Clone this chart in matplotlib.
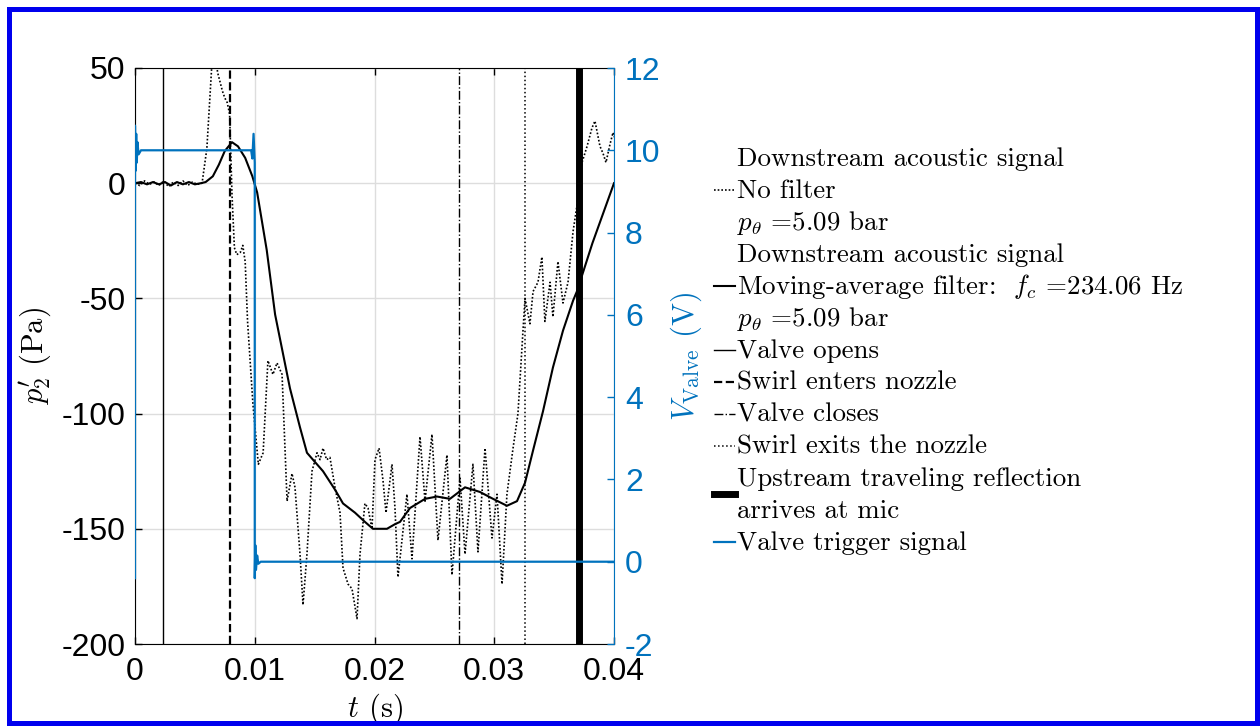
import matplotlib
matplotlib.use('Agg')
import matplotlib.pyplot as plt
from matplotlib.lines import Line2D
from matplotlib.patches import Rectangle

# ---------------- datos ---------------- #
# señal acustica sin filtro: tiempo (s) y presion (Pa)
t_raw = [0.0, 0.0004, 0.0008, 0.0012, 0.0016, 0.0020, 0.0024, 0.0028, 0.0032, 0.0036,
         0.0040, 0.0044, 0.0048, 0.0052, 0.0056, 0.0060, 0.0064, 0.0066, 0.0069, 0.0071,
         0.0073, 0.0075, 0.0077, 0.0079, 0.0081, 0.0083, 0.0085, 0.0088, 0.0090, 0.0092,
         0.0094, 0.00985, 0.0103, 0.0107, 0.0111, 0.01152, 0.01186, 0.01228, 0.0127, 0.01311,
         0.01336, 0.01378, 0.01403, 0.01436, 0.01478, 0.0152, 0.01545, 0.0157, 0.0160, 0.01628,
         0.0167, 0.01712, 0.01737, 0.01779, 0.01812, 0.01854, 0.01879, 0.0192, 0.01946, 0.01979,
         0.02004, 0.02038, 0.02071, 0.02096, 0.02146, 0.02171, 0.02196, 0.02271, 0.02313, 0.0238,
         0.02422, 0.0248, 0.0253, 0.02605, 0.02647, 0.02714, 0.02756, 0.02822, 0.02864, 0.02923,
         0.02981, 0.03023, 0.03065, 0.03106, 0.03157, 0.03198, 0.0324, 0.03257, 0.03298, 0.03324,
         0.03365, 0.03398, 0.03423, 0.03466, 0.0349, 0.03532, 0.03574, 0.03616, 0.03658, 0.0369,
         0.03733, 0.03775, 0.03816, 0.03841, 0.03883, 0.03908, 0.03933, 0.03967, 0.03992, 0.04]
p_raw = [0, -1, 1, -0.5, 0.5, -1, 1, -1.5, 0.5, -1,
         1, -1, 0.5, -0.5, 0, 15, 50, 60, 48, 44,
         40, 37, 35, 30, -5, -28, -31, -30, -27, -34,
         -60, -96, -122, -117, -77, -83, -78, -83, -138, -126,
         -132, -161, -183, -161, -125, -117, -120, -115, -120, -119,
         -132, -143, -167, -174, -176, -189, -161, -139, -141, -150,
         -120, -115, -129, -143, -122, -141, -171, -135, -163, -110,
         -138, -109, -155, -118, -170, -128, -161, -122, -160, -115,
         -154, -135, -174, -135, -115, -100, -64, -50, -61, -47,
         -43, -32, -60, -43, -58, -34, -52, -43, -21, -10,
         9, 16, 24, 27, 16, 13, 9, 17, 22, 20]

# señal con filtro de media movil
t_filt = [0.0, 0.0005, 0.001, 0.0015, 0.002, 0.0025, 0.003, 0.0035, 0.004, 0.0045,
          0.005, 0.0055, 0.0059, 0.0065, 0.0070, 0.0075, 0.0081, 0.0086, 0.0092, 0.0098,
          0.0102, 0.0110, 0.0117, 0.01294, 0.01378, 0.01436, 0.01486, 0.0157, 0.0167, 0.01737,
          0.01837, 0.0192, 0.01987, 0.02104, 0.02171, 0.02213, 0.02296, 0.02422, 0.02522, 0.0263,
          0.02756, 0.0288, 0.0299, 0.03106, 0.0319, 0.03257, 0.03324, 0.03407, 0.0349, 0.03574,
          0.03658, 0.0369, 0.0382, 0.04]
p_filt = [0, 0.5, -0.5, 0.5, -0.5, 0.5, -1, 0.5, -0.5, 0.5,
          -0.5, 0, 0.5, 3, 8, 14, 17.8, 16, 11, 3,
          -4, -29, -57, -89, -106, -117, -120, -125, -133, -139,
          -143, -147, -150, -150, -148, -147, -141, -137, -136, -137,
          -132, -134, -137, -140, -138, -130, -116, -99, -80, -64,
          -51, -47, -26, 0]

# señal de disparo de la valvula (V)
t_trig = [0.0, 0.0, 0.00005, 0.0001, 0.00015, 0.0002, 0.0003, 0.0005, 0.0097, 0.0098,
          0.0099, 0.0100, 0.0100, 0.01005, 0.0101, 0.0102, 0.0103, 0.0105, 0.04]
v_trig = [-0.4, 10.6, 9.5, 10.4, 9.7, 10.2, 9.9, 10.0, 10.0, 9.8,
          10.4, 9.7, -0.4, 0.4, -0.2, 0.15, -0.05, 0.0, 0.0]

# eventos (s)
event_times = [0.00234, 0.00793, 0.02706, 0.03257, 0.03708]
event_labels = ['Valve opens', 'Swirl enters nozzle', 'Valve closes',
                'Swirl exits the nozzle', 'Upstream traveling reflection\narrives at mic']

x_ticks = [0, 0.01, 0.02, 0.03, 0.04]
x_ticklabels = ['0', '0.01', '0.02', '0.03', '0.04']
yl_ticks = [-200, -150, -100, -50, 0, 50]
yr_ticks = [-2, 0, 2, 4, 6, 8, 10, 12]

label_raw = 'Downstream acoustic signal\nNo filter\n$p_\\theta$ =5.09 bar'
label_filt = 'Downstream acoustic signal\nMoving-average filter:  $f_c$ =234.06 Hz\n$p_\\theta$ =5.09 bar'
label_trig = 'Valve trigger signal'

# ---------------- estilo ---------------- #
plt.rcParams['font.family'] = 'Liberation Sans'
plt.rcParams['axes.unicode_minus'] = False
plt.rcParams['mathtext.fontset'] = 'cm'

azul = '#0072BD'
raw_style = dict(color='black', ls=(0, (1, 1.2)), lw=1.2)
filt_style = dict(color='black', ls='-', lw=1.5)
trig_style = dict(color=azul, ls='-', lw=1.6)
event_styles = [dict(color='black', ls='-', lw=1.0), dict(color='black', ls='--', lw=1.6),
                dict(color='black', ls='-.', lw=1.0), dict(color='black', ls=':', lw=1.1),
                dict(color='black', ls='-', lw=5.0)]

fig = plt.figure(figsize=(12.6, 7.26), dpi=100)
W, H = 1260, 726
ax = fig.add_axes([135 / W, 1 - 644 / H, 479 / W, 576 / H])
ax2 = ax.twinx()

ax.grid(True, color='#dddddd', lw=1)
ax.set_axisbelow(True)

ax.plot(t_raw, p_raw, **raw_style)
ax.plot(t_filt, p_filt, **filt_style)
for tt, st in zip(event_times, event_styles):
    ax.axvline(tt, **st)

ax2.plot(t_trig, v_trig, **trig_style)

ax.set_xlim(0, 0.04)
ax.set_ylim(-200, 50)
ax2.set_ylim(-2, 12)
ax.set_xticks(x_ticks)
ax.set_xticklabels(x_ticklabels)
ax.set_yticks(yl_ticks)
ax2.set_yticks(yr_ticks)

ax.tick_params(direction='in', length=5, labelsize=23, top=True, pad=7, width=1)
ax.tick_params(axis='x', pad=9.5)
ax2.tick_params(direction='in', length=5, labelsize=23, colors=azul, pad=8, width=1)
ax.tick_params(axis='y', right=False)

for s in ['left', 'top', 'bottom']:
    ax.spines[s].set_color('black')
ax2.spines['right'].set_color(azul)
ax2.spines['left'].set_visible(False)
ax.spines['right'].set_visible(False)
ax2.spines['top'].set_visible(False)
ax2.spines['bottom'].set_visible(False)

ax.set_xlabel('$t$ (s)', family='cmr10', fontsize=22)
ax.xaxis.set_label_coords(0.5, -0.083)
ax.set_ylabel("$p^{\\prime}_2$ (Pa)", family='cmr10', fontsize=22)
ax.yaxis.set_label_coords(-0.171, 0.5)
ax2.set_ylabel('$V_{\\mathrm{Valve}}$ (V)', family='cmr10', fontsize=22, color=azul)
ax2.yaxis.set_label_coords(1.113, 0.5)

# ---------------- leyenda (dibujada a mano, fila por fila) ---------------- #
entries = [(label_raw, raw_style), (label_filt, filt_style)]
entries += list(zip(event_labels, event_styles))
entries += [(label_trig, trig_style)]

pitch = 32.0      # px entre renglones
base0 = 166.0     # linea base del primer renglon (px desde arriba)
x_txt = 737.0
x_h0, x_h1 = 714.0, 735.0
row = 0
for text, st in entries:
    lines = text.split('\n')
    for k, ln in enumerate(lines):
        yb = base0 + (row + k) * pitch
        fig.text(x_txt / W, 1 - yb / H, ln, family='cmr10', fontsize=19.4,
                 ha='left', va='baseline')
    # el simbolo queda centrado en el bloque de renglones
    yc = base0 + (row + (len(lines) - 1) / 2) * pitch - 8
    fig.add_artist(Line2D([x_h0 / W, x_h1 / W], [1 - yc / H, 1 - yc / H],
                          transform=fig.transFigure, **st))
    row += len(lines)

# marco azul
fig.patches.append(Rectangle((8.5 / W, 3.5 / H), 1248 / W, 714 / H, transform=fig.transFigure,
                             fill=False, edgecolor='#0000ee', lw=3.6))

fig.savefig('out.png', dpi=100)
